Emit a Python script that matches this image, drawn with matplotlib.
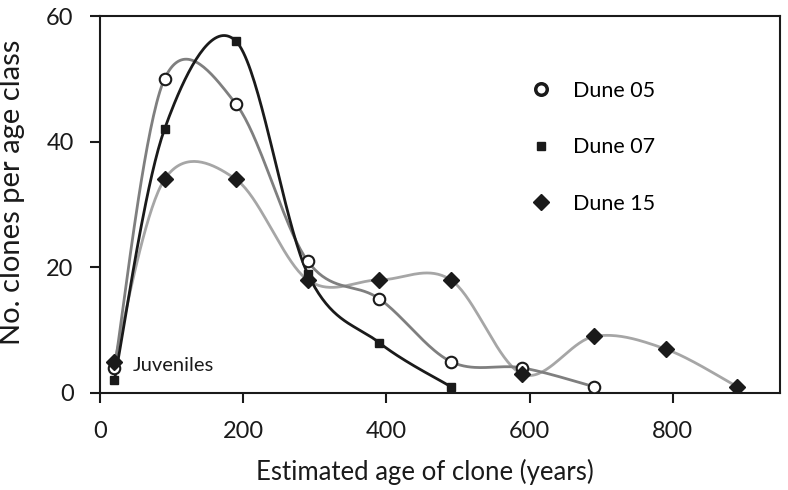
import numpy as np
import matplotlib
matplotlib.use("Agg")
import matplotlib.pyplot as plt
from matplotlib.lines import Line2D

plt.rcParams['font.family'] = ['Lato', 'DejaVu Sans']

age05 = [20, 90, 190, 290, 390, 490, 590, 690]
dune05 = [4, 50, 46, 21, 15, 5, 4, 1]
age07 = [20, 90, 190, 290, 390, 490]
dune07 = [2, 42, 56, 19, 8, 1]
age15 = [20, 90, 190, 290, 390, 490, 590, 690, 790, 890]
dune15 = [5, 34, 34, 18, 18, 18, 3, 9, 7, 1]
labels = ["Dune 05", "Dune 07", "Dune 15"]
xticks = [0, 200, 400, 600, 800]
yticks = [0, 20, 40, 60]


def smooth(x, y, n=40):
    x = np.asarray(x, float); y = np.asarray(y, float)
    P = np.column_stack([x, y])
    Pe = np.vstack([P[0], P, P[-1]])
    out = []
    t = np.linspace(0, 1, n)[:, None]
    for i in range(len(P) - 1):
        p0, p1, p2, p3 = Pe[i], Pe[i + 1], Pe[i + 2], Pe[i + 3]
        c1 = p1 + (p2 - p0) / 6.0
        c2 = p2 - (p3 - p1) / 6.0
        seg = ((1 - t) ** 3) * p1 + 3 * ((1 - t) ** 2) * t * c1 + 3 * (1 - t) * t ** 2 * c2 + t ** 3 * p2
        out.append(seg if i == 0 else seg[1:])
    s = np.vstack(out)
    return s[:, 0], s[:, 1]


fig = plt.figure(figsize=(7.88, 4.9), dpi=100)
ax = fig.add_axes([0.127, 0.198, 0.863, 0.769])

c05, c07, c15 = '#7f7f7f', '#1a1a1a', '#a6a6a6'
for xs, ys, c in [(age15, dune15, c15), (age05, dune05, c05), (age07, dune07, c07)]:
    sx, sy = smooth(xs, ys)
    ax.plot(sx, sy, color=c, lw=2, zorder=2)

ax.plot(age05, dune05, 'o', ms=8.3, mfc='white', mec='#1a1a1a', mew=1.5, zorder=3, linestyle='none')
ax.plot(age07, dune07, 's', ms=6, mfc='#1a1a1a', mec='#1a1a1a', zorder=3, linestyle='none')
ax.plot(age15, dune15, 'D', ms=8.5, mfc='#1a1a1a', mec='#1a1a1a', zorder=4, linestyle='none')

handles = [Line2D([], [], marker='o', ms=8.3, mfc='white', mec='#1a1a1a', mew=2.5, ls='none'),
           Line2D([], [], marker='s', ms=6, mfc='#1a1a1a', mec='#1a1a1a', ls='none'),
           Line2D([], [], marker='D', ms=8.5, mfc='#1a1a1a', mec='#1a1a1a', ls='none')]
ax.legend(handles, labels, loc='upper left', bbox_to_anchor=(0.604, 0.88), frameon=False,
          fontsize=15.5, labelspacing=1.7, handletextpad=1.0, handlelength=1.0)

ax.text(45, 4.3, "Juveniles", fontsize=14.5, va='center', ha='left', color='#1a1a1a')

ax.set_xlim(0, 950)
ax.set_ylim(0, 60)
ax.set_xticks(xticks)
ax.set_yticks(yticks)
ax.tick_params(direction='out', length=7, width=1.5, labelsize=17, colors='#1a1a1a')
ax.tick_params(axis='x', pad=13)
ax.tick_params(axis='y', pad=12)
for s in ax.spines.values():
    s.set_linewidth(1.5)
    s.set_color('#1a1a1a')
ax.set_xlabel("Estimated age of clone (years)", fontsize=18.5, color='#1a1a1a')
ax.set_ylabel("No. clones per age class", fontsize=21, color='#1a1a1a')
ax.xaxis.set_label_coords(0.478, -0.175)
ax.yaxis.set_label_coords(-0.110, 0.532)

fig.savefig("out.png", dpi=100)
